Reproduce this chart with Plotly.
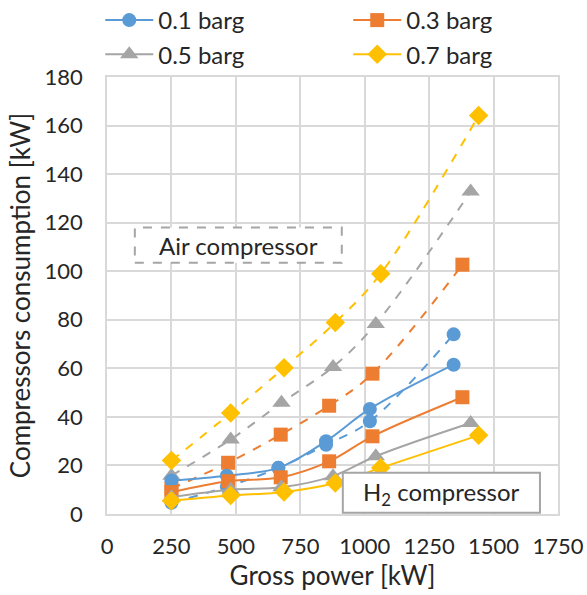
import plotly.graph_objects as go

names = ["0.1 barg", "0.3 barg", "0.5 barg", "0.7 barg"]
colors = ["#5B9BD5", "#ED7D31", "#A5A5A5", "#FFC000"]
symbols = ["circle", "square", "triangle-up", "diamond"]
msizes = [14, 14, 16, 15]

gross_01 = [250, 465, 665, 850, 1020, 1345]
gross_03 = [250, 470, 674, 862, 1030, 1379]
gross_05 = [250, 480, 677, 877, 1043, 1411]
gross_07 = [250, 480, 687, 886, 1062, 1442]

h2_01 = [13.8, 15.8, 19.0, 30.0, 43.3, 61.5]
h2_03 = [9.0, 13.5, 15.1, 21.7, 32.0, 48.1]
h2_05 = [7.0, 10.0, 11.0, 15.6, 23.8, 37.5]
h2_07 = [5.5, 7.6, 9.1, 12.8, 19.0, 32.4]

air_01 = [4.6, 11.2, 19.0, 28.5, 38.2, 74.0]
air_03 = [10.5, 21.1, 32.7, 44.6, 57.8, 102.7]
air_05 = [15.8, 30.7, 45.8, 60.6, 78.3, 132.8]
air_07 = [22.0, 41.6, 60.2, 78.9, 99.0, 164.1]

gross = [gross_01, gross_03, gross_05, gross_07]
h2 = [h2_01, h2_03, h2_05, h2_07]
air = [air_01, air_03, air_05, air_07]

fig = go.Figure()
for i in range(4):
    fig.add_trace(go.Scatter(
        x=gross[i], y=air[i], mode="lines+markers", showlegend=False,
        line=dict(color=colors[i], width=2, dash="dash", shape="spline"),
        marker=dict(symbol=symbols[i], size=msizes[i], color=colors[i]),
    ))
for i in range(4):
    fig.add_trace(go.Scatter(
        x=gross[i], y=h2[i], mode="lines+markers", name=names[i],
        line=dict(color=colors[i], width=2, shape="spline"),
        marker=dict(symbol=symbols[i], size=msizes[i], color=colors[i]),
    ))

font = "Lato, Open Sans, sans-serif"
txt = "#262626"
fig.update_layout(
    width=587, height=595,
    margin=dict(l=107, r=29, t=77, b=81, autoexpand=False),
    paper_bgcolor="white", plot_bgcolor="white",
    font=dict(family=font, size=22, color=txt),
    showlegend=True,
    legend=dict(orientation="h", xref="paper", yref="paper", x=-0.015, xanchor="left",
                y=1.0, yanchor="bottom",
                entrywidth=185, entrywidthmode="pixels",
                font=dict(size=24, color=txt), traceorder="normal",
                itemwidth=48, tracegroupgap=0, bgcolor="rgba(0,0,0,0)"),
    xaxis=dict(range=[0, 1750], dtick=250, tick0=0, showgrid=True, gridcolor="#D9D9D9",
               gridwidth=1.5, zeroline=False, showline=True, linecolor="#D9D9D9", linewidth=1.5, mirror=True,
               ticks="", tickfont=dict(size=22, color=txt), ticklabelstandoff=12,
               title=dict(text="Gross power [kW]", font=dict(size=26, color=txt), standoff=4)),
    yaxis=dict(range=[0, 180], dtick=20, tick0=0, showgrid=True, gridcolor="#D9D9D9",
               gridwidth=1.5, zeroline=False, showline=True, linecolor="#D9D9D9", linewidth=1.5, mirror=True,
               ticks="", tickfont=dict(size=22, color=txt), ticklabelstandoff=18,
               title=dict(text="Compressors consumption [kW]", font=dict(size=26, color=txt), standoff=6)),
)

fig.add_shape(type="rect", xref="x", yref="y", x0=108, x1=911, y0=103.5, y1=118,
              line=dict(color="#A5A5A5", width=2, dash="dash"), fillcolor="white", layer="above")
fig.add_annotation(x=510, y=110.75, xref="x", yref="y", text="Air compressor", showarrow=False,
                   font=dict(size=24, color=txt))
fig.add_shape(type="rect", xref="x", yref="y", x0=915, x1=1680, y0=0.5, y1=17,
              line=dict(color="#A5A5A5", width=2), fillcolor="white", layer="above")
fig.add_annotation(x=1297, y=8.5, xref="x", yref="y", text="H<sub>2</sub> compressor", showarrow=False,
                   font=dict(size=24, color=txt))

fig.write_html("out.html")
